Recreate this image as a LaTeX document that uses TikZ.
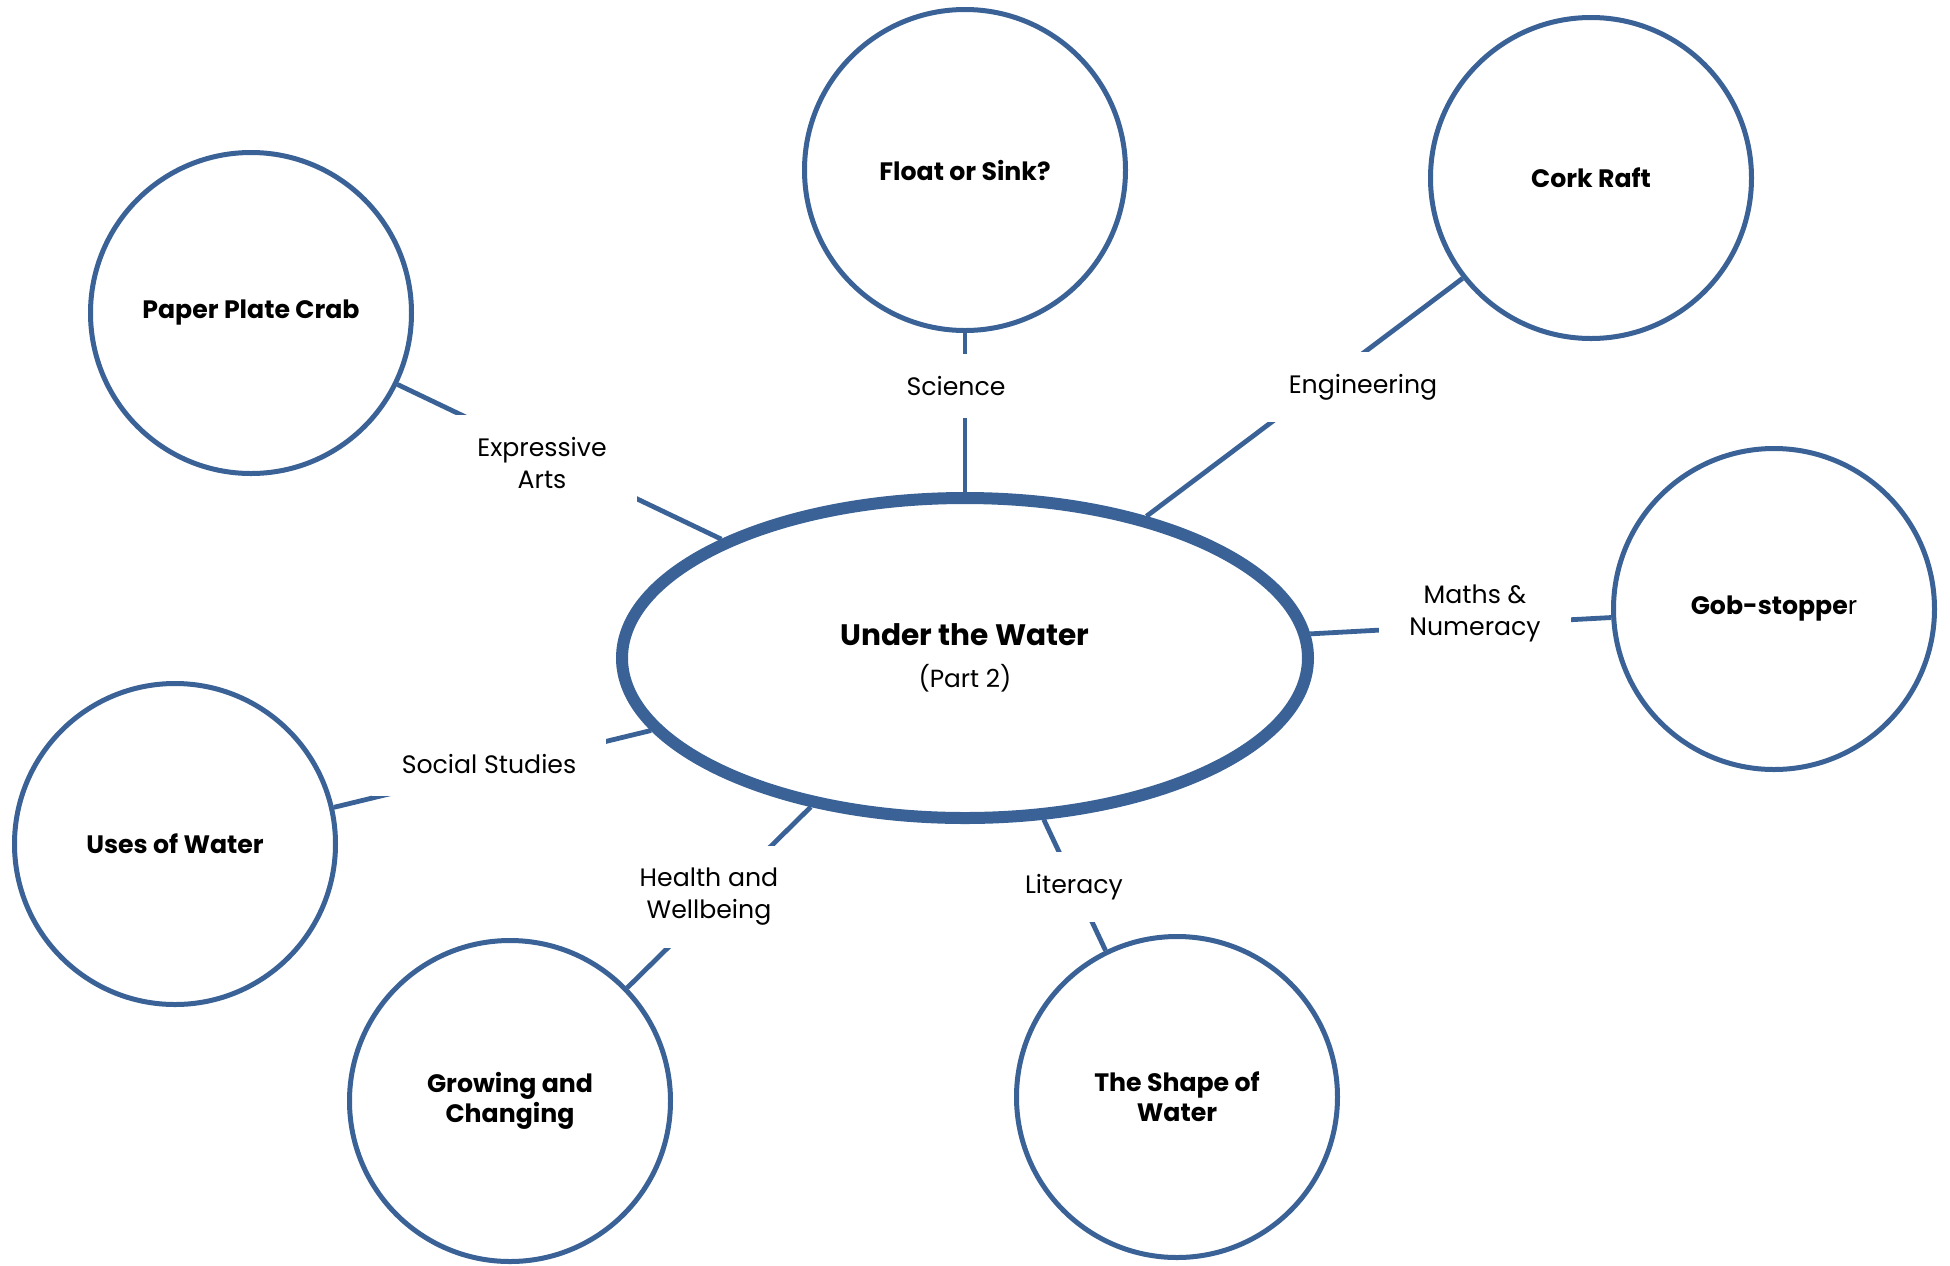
\documentclass[tikz,border=0pt]{standalone}
\usepackage{fontspec}
\setmainfont{Poppins}
\usetikzlibrary{shapes.geometric}
\definecolor{waterblue}{RGB}{58,98,150}
\begin{document}
\begin{tikzpicture}[x=0.5pt,y=-0.5pt]

\tikzstyle{topic}=[circle, draw=waterblue, line width=2.5pt, fill=white, minimum size=160.5pt, inner sep=0pt, align=center, font=\fontsize{12.6}{15}\selectfont\bfseries]
\tikzstyle{subject}=[fill=white, inner xsep=15pt, inner ysep=11pt, align=center, font=\fontsize{12.6}{16}\selectfont]
\tikzstyle{link}=[draw=waterblue, line width=2.4pt]

\useasboundingbox (0,0) rectangle (1950,1265);

\node [ellipse, draw=waterblue, line width=6pt, fill=white, minimum width=343pt, minimum height=160pt, inner sep=0pt, align=center, font=\fontsize{12.4}{15}\selectfont] (main) at (965,658) {{\fontsize{14.8}{17}\selectfont\bfseries Under the Water}\\[6pt](Part 2)};

\node [topic] (float) at (965,170) {Float or Sink?};
\node [topic] (cork) at (1591,178) {Cork Raft};
\node [topic] (crab) at (251,313) {Paper Plate Crab};
\node [topic] (gob) at (1774,609) {Gob-stoppe{\mdseries r}};
\node [topic] (uses) at (175,844) {Uses of Water};
\node [topic] (growing) at (510,1101) {Growing and\\Changing};
\node [topic] (shape) at (1177,1097) {The Shape of\\Water};

\draw [link] (float.south) -- (main.north);
\draw [link] (cork.218) -- (main.38);
\draw [link] (crab.334) -- (main.154);
\draw [link] (main.4) -- (gob.183);
\draw [link] (uses.13) -- (main.193);
\draw [link] (main.224) -- (growing.44);
\draw [link] (main.296) -- (shape.116);

\node [subject] (science) at (956,386) {Science};
\node [subject] (engineering) at (1363,387) {Engineering};
\node [subject] (arts) at (542,463) {Expressive\\Arts};
\node [subject] (maths) at (1475,613) {Maths \&\\Numeracy};
\node [subject] (social) at (489,764) {Social Studies};
\node [subject] (health) at (709,897) {Health and\\Wellbeing};
\node [subject] (literacy) at (1074,887) {Literacy};
\end{tikzpicture}
\end{document}
